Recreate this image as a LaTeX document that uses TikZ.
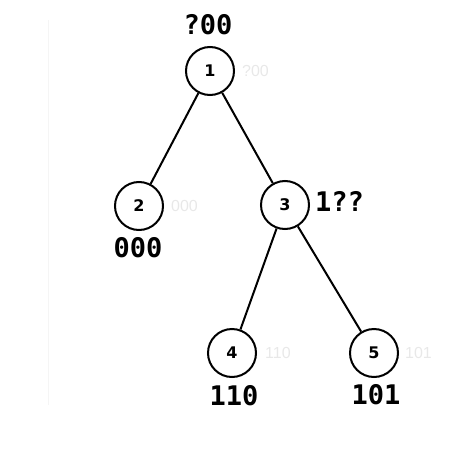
\documentclass[tikz,border=0pt]{standalone}
\usepackage{fontspec}
\setmainfont{Liberation Sans}
\setmonofont{DejaVu Sans Mono}
\newfontfamily\numfont{DejaVu Sans}
\begin{document}
\begin{tikzpicture}[x=1pt,y=-1pt,
  tnode/.style={circle,draw,line width=2pt,minimum size=48pt,inner sep=0pt,font=\numfont\bfseries\fontsize{16}{16}\selectfont},
  faint/.style={text=black!9,font=\fontsize{16}{16}\selectfont,anchor=west,inner sep=0pt},
  big/.style={font=\ttfamily\bfseries\fontsize{27}{27}\selectfont,inner sep=0pt},
  edge/.style={line width=2pt}]
\useasboundingbox (0,0) rectangle (471,471);
\draw[black!4,line width=1pt] (48,20) -- (48,405);
\node[tnode] (n1) at (210,71) {1};
\node[tnode] (n2) at (139,206) {2};
\node[tnode] (n3) at (285,205) {3};
\node[tnode] (n4) at (232,353) {4};
\node[tnode] (n5) at (374,353) {5};
\draw[edge] (n1) -- (n2);
\draw[edge] (n1) -- (n3);
\draw[edge] (n3) -- (n4);
\draw[edge] (n3) -- (n5);
\node[faint] (g1) at (242,71) {?00};
\node[faint] (g2) at (171,206) {000};
\node[faint] (g4) at (265,353) {110};
\node[faint] (g5) at (405,353) {101};
\node[big] (l1) at (208,25) {?00};
\node[big] (l2) at (138,248) {000};
\node[big,anchor=west] (l3) at (315,201) {1??};
\node[big] (l4) at (234,396) {110};
\node[big] (l5) at (376,395) {101};
\end{tikzpicture}
\end{document}
